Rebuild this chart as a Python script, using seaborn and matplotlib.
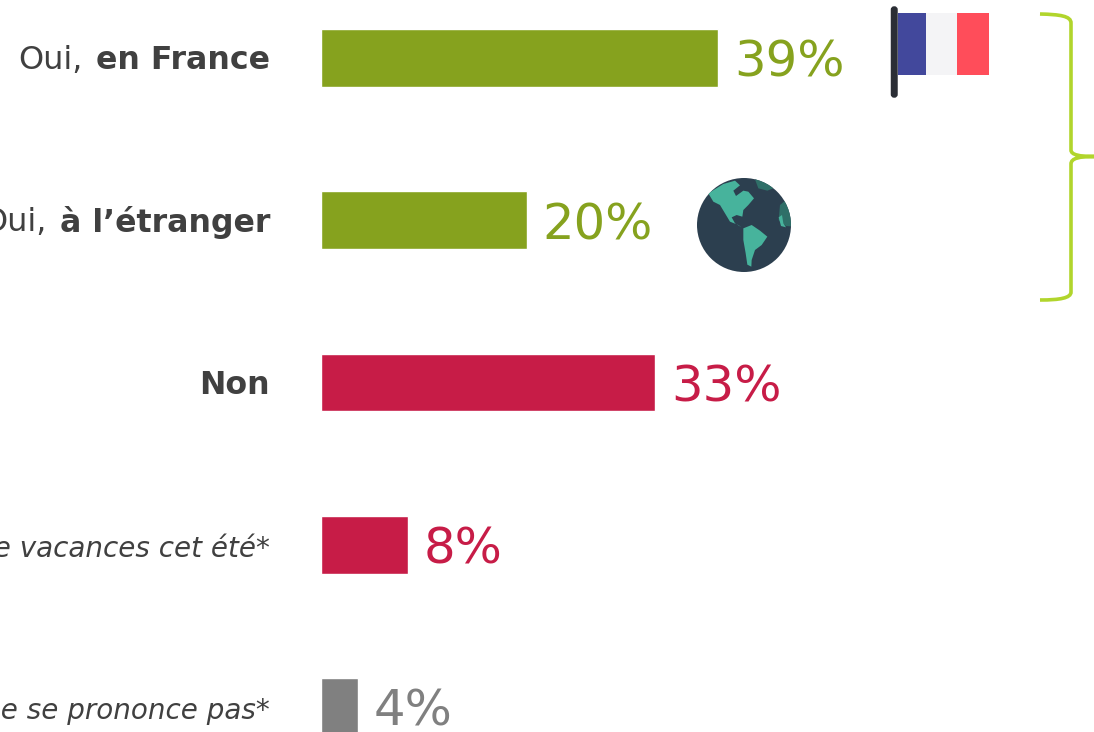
import matplotlib
matplotlib.use("Agg")
import matplotlib.pyplot as plt
import seaborn as sns
import pandas as pd
from matplotlib.patches import Rectangle, Circle, FancyBboxPatch, PathPatch, Polygon
from matplotlib.path import Path

categories = ["Oui, en France", "Oui, à l’étranger", "Non",
              "Pas de vacances cet été*", "Ne se prononce pas*"]
values = [39.0, 20.2, 32.8, 8.5, 3.6]
value_labels = ["39%", "20%", "33%", "8%", "4%"]
groups = ["oui", "oui", "non", "non", "nsp"]
label_regular = ["Oui, ", "Oui, ", "", "", ""]
label_bold = ["en France", "à l’étranger", "Non", "", ""]
label_italic = ["", "", "", "Pas de vacances cet été*", "Ne se prononce pas*"]
palette = {"oui": "#86a21e", "non": "#c71c47", "nsp": "#808080"}
TEXT = "#404040"

W, H = 1094, 732
sns.set_theme(style="white")
plt.rcParams["font.family"] = ["DejaVu Sans"]
fig = plt.figure(figsize=(W / 100, H / 100), dpi=100)
ax = fig.add_axes([0, 0, 1, 1])

df = pd.DataFrame({"cat": categories, "val": values, "grp": groups})
sns.barplot(data=df, y="cat", x="val", hue="grp", palette=palette, dodge=False,
            width=58 / 162.25, orient="h", legend=False, saturation=1, ax=ax)

PX_PER_UNIT, X0, Y0, STEP = 10.17, 321.3, 58, 162.25
ax.set_xlim(-X0 / PX_PER_UNIT, (W - X0) / PX_PER_UNIT)
ax.set_ylim((H - Y0) / STEP, -Y0 / STEP)
ax.axis("off")

label_x = (270 - X0) / PX_PER_UNIT
renderer = fig.canvas.get_renderer()
for i, v in enumerate(values):
    ax.text(v + 16 / PX_PER_UNIT, i + 0.03, value_labels[i], va="center", ha="left",
            fontsize=35.8, color=palette[groups[i]])
    if label_bold[i]:
        t = ax.text(label_x, i + 0.016, label_bold[i], ha="right", va="center",
                    fontsize=22.8, fontweight="bold", color=TEXT)
        if label_regular[i]:
            bb = t.get_window_extent(renderer)
            ax.annotate(label_regular[i].strip(), xy=(bb.x0 - 13, (bb.y0 + bb.y1) / 2),
                        xycoords="figure pixels", ha="right", va="center",
                        fontsize=23, color=TEXT)
    else:
        ax.text(label_x, i + 0.026, label_italic[i], ha="right", va="center",
                fontsize=20, fontstyle="italic", color=TEXT)

# Decorative pictograms and brace, in pixel coordinates
ov = fig.add_axes([0, 0, 1, 1], facecolor="none")
ov.set_xlim(0, W)
ov.set_ylim(H, 0)
ov.axis("off")

ov.add_patch(Rectangle((898, 13), 28, 62, fc="#42489c", ec="none"))
ov.add_patch(Rectangle((926, 13), 31, 62, fc="#f4f4f6", ec="none"))
ov.add_patch(Rectangle((957, 13), 32, 62, fc="#ff4d5a", ec="none"))
ov.add_patch(FancyBboxPatch((892.5, 8), 3.5, 88, boxstyle="round,pad=0,rounding_size=1.7",
                            fc="#2b2e35", ec="#2b2e35", lw=2.5))

gx, gy, gr = 744, 225, 47
disc = Circle((gx, gy), gr, fc="#2c3f4f", ec="none")
ov.add_patch(disc)


def zoom_pts(pts):
    return [(680 + x / 3, 160 + y / 3) for x, y in pts]


shapes = [
    ("#2f6f68", [(222, 50), (250, 50), (280, 85), (262, 92), (235, 85)]),
    ("#2f6f68", [(300, 135), (318, 120), (345, 150), (345, 200), (318, 198), (296, 180)]),
    ("#47b39c", [(85, 100), (130, 72), (165, 62), (180, 76), (160, 92), (168, 108),
                 (190, 92), (205, 95), (222, 115), (205, 135), (190, 150), (187, 170),
                 (170, 165), (155, 172), (165, 190), (185, 202), (175, 195), (150, 185),
                 (135, 160), (120, 135), (100, 125)]),
    ("#47b39c", [(190, 205), (215, 195), (240, 212), (262, 230), (245, 255), (225, 270),
                 (215, 300), (214, 320), (202, 314), (197, 280), (190, 240)]),
    ("#47b39c", [(296, 172), (306, 165), (310, 190), (318, 202), (303, 198)]),
]
for col, pts in shapes:
    p = Polygon(zoom_pts(pts), closed=True, fc=col, ec="none")
    ov.add_patch(p)
    p.set_clip_path(disc)

brace_verts = [(1040, 14), (1060, 14.5), (1071, 16), (1071, 23), (1071, 150),
               (1071, 155), (1080, 156.5), (1094, 156.5), (1080, 156.5), (1071, 158),
               (1071, 164), (1071, 292), (1071, 298), (1060, 300), (1040, 300)]
brace_codes = [Path.MOVETO, Path.CURVE4, Path.CURVE4, Path.CURVE4, Path.LINETO,
               Path.CURVE4, Path.CURVE4, Path.CURVE4, Path.CURVE4, Path.CURVE4,
               Path.CURVE4, Path.LINETO, Path.CURVE4, Path.CURVE4, Path.CURVE4]
ov.add_patch(PathPatch(Path(brace_verts, brace_codes), fc="none", ec="#b1d52c", lw=2.6))

fig.savefig("out.png", dpi=100, facecolor="white")
